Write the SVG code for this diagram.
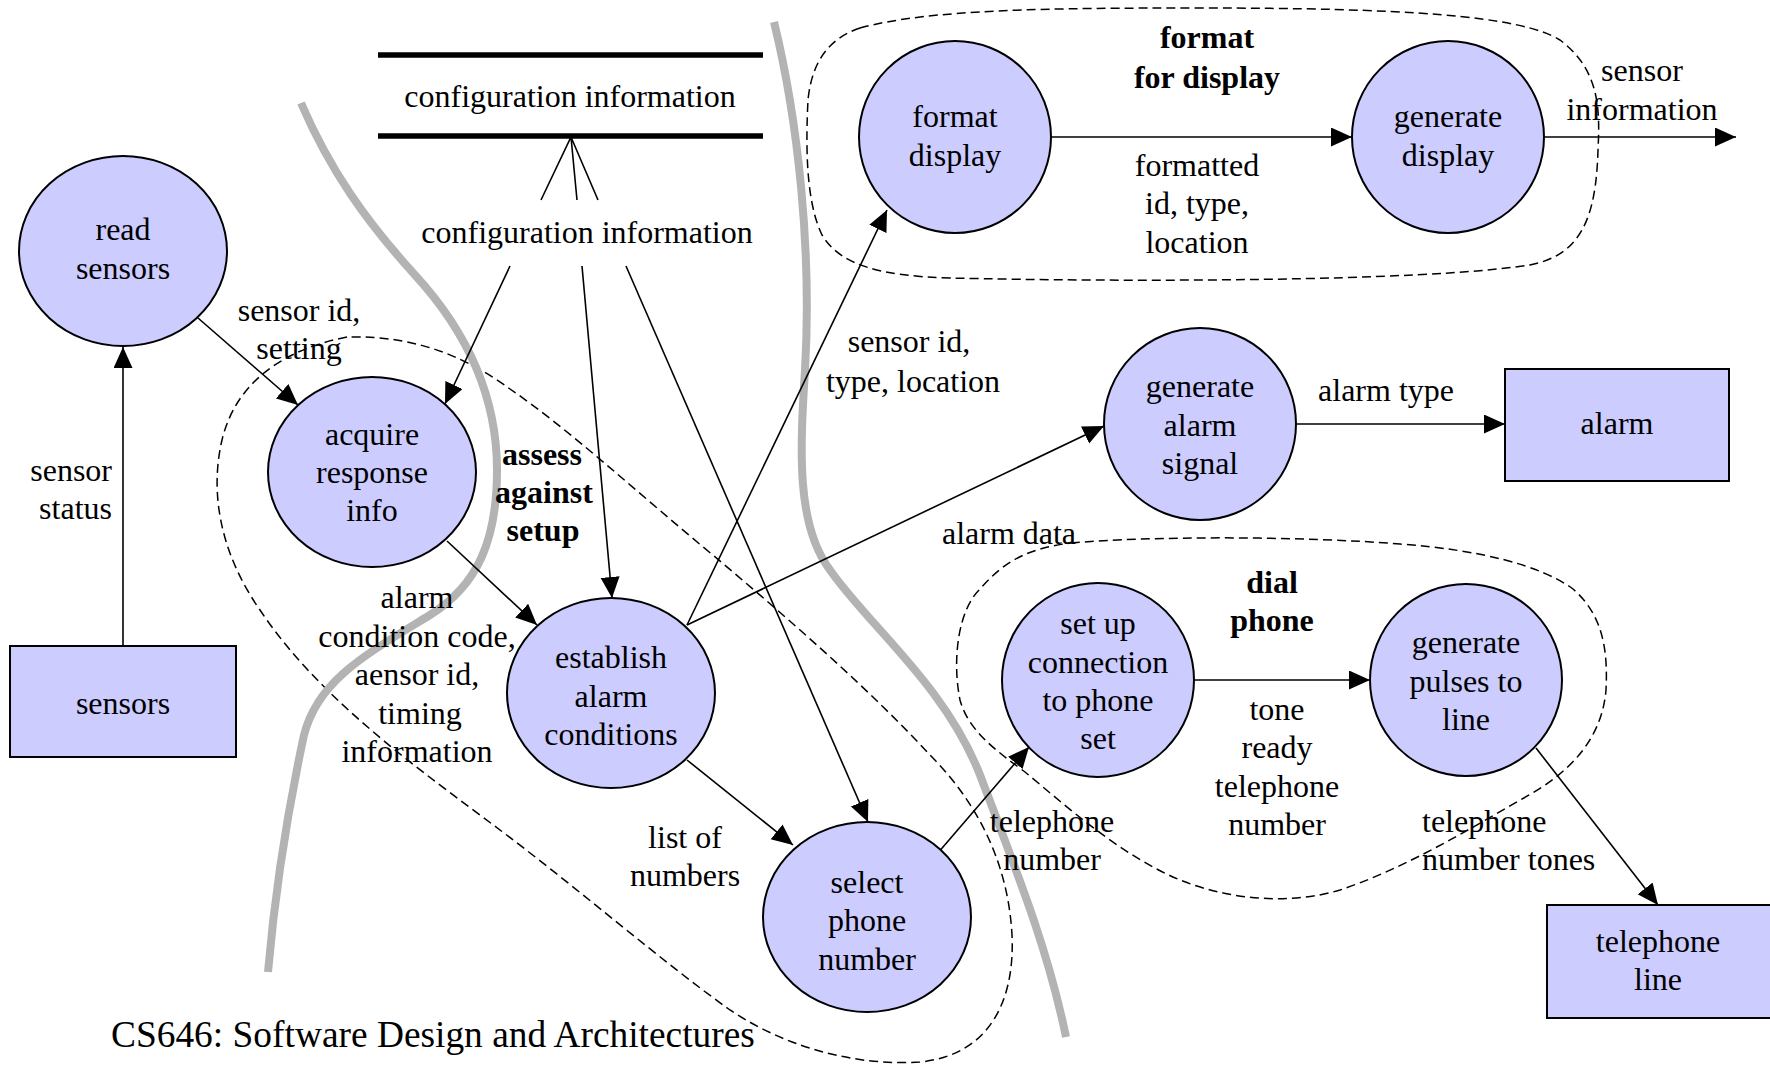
<svg xmlns="http://www.w3.org/2000/svg" width="1770" height="1066" viewBox="0 0 1770 1066">
  <style>
    text { font-family: "Liberation Serif", "Times New Roman", serif; font-size: 32px; fill: #000; }
    .c { text-anchor: middle; }
    .b { font-weight: bold; text-anchor: middle; }
    .r { text-anchor: end; }
    .proc { fill: #ccccff; stroke: #000; stroke-width: 2; }
    .term { fill: #ccccff; stroke: #000; stroke-width: 2; }
    .flow { fill: none; stroke: #000; stroke-width: 1.6; }
    .arr { marker-end: url(#arrow); }
    .group { fill: none; stroke: #000; stroke-width: 1.5; stroke-dasharray: 9 5; }
    .split { fill: none; stroke: #b3b3b3; stroke-width: 8; stroke-linecap: butt; }
    .store { stroke: #000; stroke-width: 5.5; }
    .footer { font-size: 37.4px; }
  </style>
  <defs>
    <marker id="arrow" markerUnits="userSpaceOnUse" markerWidth="22" markerHeight="20" refX="21" refY="9.5" orient="auto">
      <path d="M0,0 L21,9.5 L0,19 Z" fill="#000"/>
    </marker>
  </defs>
  <rect width="1770" height="1066" fill="#fff"/>

  <!-- process groupings (dashed outlines) -->
  <g id="groupings">
    <path class="group" d="M860,28 C930,9 1050,8 1200,8 C1400,8 1520,15 1560,40 C1600,70 1600,110 1598,150 C1596,220 1580,255 1530,265 C1420,282 1120,282 950,278 C880,276 840,265 822,235 C805,200 806,140 808,100 C812,60 830,38 860,28 Z"/>
    <path class="group" d="M347,337 C280,350 235,385 222,440 C208,500 225,560 260,610 C320,700 420,770 500,830 C580,890 660,960 730,1010 C790,1050 860,1066 920,1062 C990,1055 1015,1000 1012,935 C1008,860 975,800 930,755 C870,690 790,620 714,556 C640,495 570,430 510,389 C470,360 420,335 347,337 Z"/>
    <path class="group" d="M1071,543 C1150,536 1300,536 1400,544 C1480,550 1540,565 1573,589 C1603,615 1608,650 1606,690 C1602,740 1568,775 1520,800 C1460,835 1400,870 1340,890 C1290,905 1230,900 1180,880 C1120,855 1065,805 1025,772 C995,750 968,730 960,700 C952,660 958,610 980,589 C1005,560 1030,548 1071,543 Z"/>
  </g>

  <!-- system boundaries (grey) -->
  <g id="boundaries">
    <path class="split" d="M301,103 C330,170 365,220 415,275 C470,335 497,400 497,470 C497,540 478,585 430,615 C365,655 318,680 304,735 C290,800 276,880 268,972"/>
    <path class="split" d="M774,22 C798,120 812,250 805,370 C800,450 796,525 830,570 C868,625 945,685 980,775 C1020,880 1048,950 1066,1037"/>
  </g>

  <!-- data flows -->
  <g id="connectors">
    <line class="flow arr" x1="123" y1="645" x2="123" y2="347"/>
    <line class="flow arr" x1="198" y1="318" x2="298" y2="405"/>
    <path class="flow" d="M541,200 L571,137 L577,200 M571,137 L598,200"/>
    <line class="flow arr" x1="510" y1="266" x2="445" y2="404"/>
    <line class="flow arr" x1="582" y1="266" x2="612" y2="598"/>
    <line class="flow arr" x1="626" y1="266" x2="868" y2="822"/>
    <line class="flow arr" x1="447" y1="541" x2="537" y2="625"/>
    <line class="flow arr" x1="687" y1="625" x2="887" y2="210"/>
    <line class="flow arr" x1="687" y1="625" x2="1104" y2="426"/>
    <line class="flow arr" x1="687" y1="760" x2="793" y2="845"/>
    <line class="flow arr" x1="937" y1="854" x2="1029" y2="747"/>
    <line class="flow arr" x1="1051" y1="137" x2="1352" y2="137"/>
    <line class="flow arr" x1="1544" y1="137" x2="1736" y2="137"/>
    <line class="flow arr" x1="1296" y1="424" x2="1505" y2="424"/>
    <line class="flow arr" x1="1194" y1="680" x2="1370" y2="680"/>
    <line class="flow arr" x1="1536" y1="748" x2="1658" y2="905"/>
  </g>

  <!-- data store -->
  <g id="config-store">
    <line class="store" x1="378" y1="55" x2="763" y2="55"/>
    <line class="store" x1="378" y1="136" x2="763" y2="136"/>
    <text class="c" x="570" y="107">configuration information</text>
  </g>

  <!-- external entities -->
  <g id="sensors">
    <rect class="term" x="10" y="646" width="226" height="111"/>
    <text class="c" x="123" y="714">sensors</text>
  </g>
  <g id="alarm">
    <rect class="term" x="1505" y="369" width="224" height="112"/>
    <text class="c" x="1617" y="434">alarm</text>
  </g>
  <g id="telephone-line">
    <rect class="term" x="1547" y="905" width="240" height="113"/>
    <text class="c" x="1658" y="952">telephone</text>
    <text class="c" x="1658" y="990">line</text>
  </g>

  <!-- processes -->
  <g id="read-sensors">
    <ellipse class="proc" cx="123" cy="251" rx="104" ry="95"/>
    <text class="c" x="123" y="240">read</text>
    <text class="c" x="123" y="279">sensors</text>
  </g>
  <g id="acquire-response-info">
    <ellipse class="proc" cx="372" cy="472" rx="104" ry="95"/>
    <text class="c" x="372" y="445">acquire</text>
    <text class="c" x="372" y="483">response</text>
    <text class="c" x="372" y="521">info</text>
  </g>
  <g id="establish-alarm-conditions">
    <ellipse class="proc" cx="611" cy="693" rx="104" ry="95"/>
    <text class="c" x="611" y="668">establish</text>
    <text class="c" x="611" y="707">alarm</text>
    <text class="c" x="611" y="745">conditions</text>
  </g>
  <g id="select-phone-number">
    <ellipse class="proc" cx="867" cy="917" rx="104" ry="95"/>
    <text class="c" x="867" y="893">select</text>
    <text class="c" x="867" y="931">phone</text>
    <text class="c" x="867" y="970">number</text>
  </g>
  <g id="format-display">
    <ellipse class="proc" cx="955" cy="137" rx="96" ry="96"/>
    <text class="c" x="955" y="127">format</text>
    <text class="c" x="955" y="166">display</text>
  </g>
  <g id="generate-display">
    <ellipse class="proc" cx="1448" cy="137" rx="96" ry="96"/>
    <text class="c" x="1448" y="127">generate</text>
    <text class="c" x="1448" y="166">display</text>
  </g>
  <g id="generate-alarm-signal">
    <ellipse class="proc" cx="1200" cy="424" rx="96" ry="96"/>
    <text class="c" x="1200" y="397">generate</text>
    <text class="c" x="1200" y="436">alarm</text>
    <text class="c" x="1200" y="474">signal</text>
  </g>
  <g id="set-up-connection">
    <ellipse class="proc" cx="1098" cy="680" rx="96" ry="97"/>
    <text class="c" x="1098" y="634">set up</text>
    <text class="c" x="1098" y="673">connection</text>
    <text class="c" x="1098" y="711">to phone</text>
    <text class="c" x="1098" y="749">set</text>
  </g>
  <g id="generate-pulses">
    <ellipse class="proc" cx="1466" cy="680" rx="96" ry="96"/>
    <text class="c" x="1466" y="653">generate</text>
    <text class="c" x="1466" y="692">pulses to</text>
    <text class="c" x="1466" y="730">line</text>
  </g>

  <!-- flow and group labels -->
  <g id="labels">
    <text class="c" x="587" y="243">configuration information</text>
    <text class="c" x="299" y="321">sensor id,</text>
    <text class="c" x="299" y="359">setting</text>
    <text class="r" x="112" y="481">sensor</text>
    <text class="r" x="112" y="519">status</text>
    <text class="b" x="542" y="465">assess</text>
    <text class="b" x="544" y="503">against</text>
    <text class="b" x="543" y="541">setup</text>
    <text class="c" x="417" y="608">alarm</text>
    <text class="c" x="417" y="647">condition code,</text>
    <text class="c" x="417" y="685">aensor id,</text>
    <text class="c" x="420" y="724">timing</text>
    <text class="c" x="417" y="762">information</text>
    <text class="c" x="909" y="352">sensor id,</text>
    <text class="c" x="913" y="392">type, location</text>
    <text class="c" x="1197" y="176">formatted</text>
    <text class="c" x="1197" y="214">id, type,</text>
    <text class="c" x="1197" y="253">location</text>
    <text class="b" x="1207" y="48">format</text>
    <text class="b" x="1207" y="88">for display</text>
    <text class="c" x="1642" y="81">sensor</text>
    <text class="c" x="1642" y="120">information</text>
    <text class="c" x="1386" y="401">alarm type</text>
    <text class="c" x="1009" y="544">alarm data</text>
    <text class="b" x="1272" y="593">dial</text>
    <text class="b" x="1272" y="631">phone</text>
    <text class="c" x="685" y="848">list of</text>
    <text class="c" x="685" y="886">numbers</text>
    <text class="c" x="1052" y="832">telephone</text>
    <text class="c" x="1052" y="870">number</text>
    <text class="c" x="1277" y="720">tone</text>
    <text class="c" x="1277" y="758">ready</text>
    <text class="c" x="1277" y="797">telephone</text>
    <text class="c" x="1277" y="835">number</text>
    <text x="1422" y="832">telephone</text>
    <text x="1422" y="870">number tones</text>
    <text class="footer" x="111" y="1047">CS646: Software Design and Architectures</text>
  </g>
</svg>
